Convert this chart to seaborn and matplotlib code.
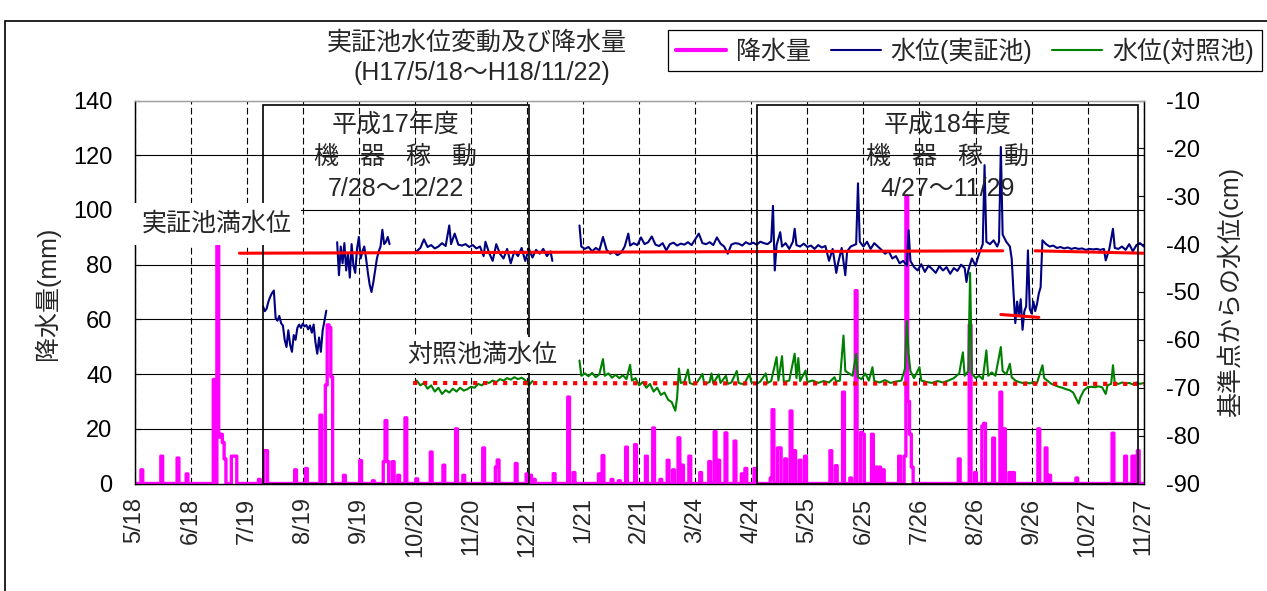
import numpy as np
import pandas as pd
import matplotlib
matplotlib.use("Agg")
import matplotlib.pyplot as plt
import matplotlib.dates as mdates
from matplotlib.lines import Line2D
from matplotlib.patches import Rectangle
from matplotlib.transforms import blended_transform_factory
import seaborn as sns

sns.set_style("white")
plt.rcParams["font.family"] = ["Liberation Sans", "Noto Sans CJK JP"]
plt.rcParams["axes.unicode_minus"] = False

# ---------------- data ----------------
x_start = "2005-05-18"
x_end = "2006-11-27"
tick_dates = ["2005-05-18", "2005-06-18", "2005-07-19", "2005-08-19", "2005-09-19",
              "2005-10-20", "2005-11-20", "2005-12-21", "2006-01-21", "2006-02-21",
              "2006-03-24", "2006-04-24", "2006-05-25", "2006-06-25", "2006-07-26",
              "2006-08-26", "2006-09-26", "2006-10-27", "2006-11-27"]
tick_labels = ["5/18", "6/18", "7/19", "8/19", "9/19", "10/20", "11/20", "12/21", "1/21",
               "2/21", "3/24", "4/24", "5/25", "6/25", "7/26", "8/26", "9/26", "10/27", "11/27"]

# daily rainfall (mm); days not listed had no rain
rain_dates = ["2005-05-22", "2005-06-02", "2005-06-11", "2005-06-16", "2005-07-01", "2005-07-03",
              "2005-07-04", "2005-07-05", "2005-07-06", "2005-07-07", "2005-07-11", "2005-07-12",
              "2005-07-13", "2005-07-26", "2005-07-29", "2005-07-30", "2005-08-15", "2005-08-21",
              "2005-08-29", "2005-09-01", "2005-09-02", "2005-09-03", "2005-09-04", "2005-09-11",
              "2005-09-20", "2005-09-27", "2005-10-03", "2005-10-04", "2005-10-05", "2005-10-08",
              "2005-10-11", "2005-10-15", "2005-10-21", "2005-10-29", "2005-11-05", "2005-11-12",
              "2005-11-16", "2005-11-27", "2005-12-04", "2005-12-05", "2005-12-15", "2005-12-21",
              "2005-12-23", "2005-12-25",
              "2006-01-05", "2006-01-13", "2006-01-16", "2006-01-30", "2006-02-01", "2006-02-06",
              "2006-02-10", "2006-02-14", "2006-02-19", "2006-02-25", "2006-03-01", "2006-03-05",
              "2006-03-09", "2006-03-12", "2006-03-15", "2006-03-17", "2006-03-21", "2006-03-27",
              "2006-04-01", "2006-04-04", "2006-04-06", "2006-04-10", "2006-04-15", "2006-04-19",
              "2006-04-21", "2006-04-26", "2006-05-05", "2006-05-06", "2006-05-09", "2006-05-10",
              "2006-05-13", "2006-05-16", "2006-05-18", "2006-05-21", "2006-05-24", "2006-06-07",
              "2006-06-10", "2006-06-14", "2006-06-18", "2006-06-21", "2006-06-24", "2006-06-25",
              "2006-06-30", "2006-07-02", "2006-07-04", "2006-07-06", "2006-07-15", "2006-07-18",
              "2006-07-19", "2006-07-20", "2006-07-21", "2006-07-22", "2006-08-17", "2006-08-23",
              "2006-08-26", "2006-08-30", "2006-08-31", "2006-09-05", "2006-09-09", "2006-09-11",
              "2006-09-14", "2006-09-16", "2006-09-30", "2006-10-04", "2006-10-06", "2006-10-21",
              "2006-11-10", "2006-11-17", "2006-11-21", "2006-11-23", "2006-11-24"]
rain_mm = [5, 10, 9.3, 3.5, 38, 87,
           17, 18, 15, 9, 10, 10,
           10, 1.5, 12, 12, 5, 5.5,
           25, 36, 58, 57, 39, 3,
           8.4, 1, 8, 23, 8, 8,
           3, 24, 1.7, 11.5, 6.7, 20,
           3, 13, 6, 8.6, 7.3, 3.5,
           3, 1.5,
           3.6, 31.6, 4, 3.5, 10.2, 1.5,
           1, 13.3, 14.2, 10, 20.3, 1.5,
           8.5, 5, 16.7, 6.7, 10, 4,
           8, 19, 8.5, 18.5, 15.5, 3.5,
           5.5, 5.5, 2, 27, 13, 13,
           9, 26.5, 12, 8.5, 10, 12,
           6.5, 33.4, 2, 70.5, 18.7, 18,
           18, 6, 6, 5, 10, 10,
           105, 30, 18, 6, 9, 58,
           4, 21, 22, 16.6, 33.4, 20,
           4, 4, 20, 13, 3, 2,
           18.4, 10, 10, 10, 12]

# water level of the demonstration pond (cm from datum) - daily segments of 2005
jissho_a_start = "2005-07-28"
jissho_a = [-53.0, -54.0, -53.5, -52.0, -51.0, -50.2, -49.7, -55.5, -56.0, -55.0, -56.5, -57.0,
            -60.0, -61.5, -58.0, -61.0, -62.5, -59.0, -60.0, -57.5, -56.8, -57.5, -56.6, -57.2,
            -56.9, -57.8, -57.0, -58.5, -56.8, -60.5, -62.9, -59.5, -62.5, -58.0, -56.0, -53.9]
jissho_b_start = "2005-09-07"
jissho_b = [-39.6, -46.5, -40.5, -44.0, -39.8, -45.5, -42.0, -47.0, -40.0, -44.5, -46.0, -41.0,
            -38.5, -43.0, -41.5, -40.5, -43.0, -46.0, -48.5, -50.0, -48.0, -45.5, -43.0, -41.5,
            -40.5, -37.0, -40.0, -39.5, -38.5, -40.0]
jissho_c_dates = ["2005-10-21", "2005-10-23", "2005-10-25", "2005-10-27", "2005-10-29", "2005-10-31",
                  "2005-11-02", "2005-11-04", "2005-11-06", "2005-11-08", "2005-11-09", "2005-11-11",
                  "2005-11-13", "2005-11-15", "2005-11-17", "2005-11-19", "2005-11-21", "2005-11-23",
                  "2005-11-25", "2005-11-27", "2005-11-28", "2005-11-30", "2005-12-02", "2005-12-04",
                  "2005-12-06", "2005-12-08", "2005-12-10", "2005-12-12", "2005-12-14", "2005-12-16",
                  "2005-12-18", "2005-12-20", "2005-12-22", "2005-12-24", "2005-12-26", "2005-12-28",
                  "2005-12-30", "2006-01-01", "2006-01-03", "2006-01-04"]
jissho_c = [-41.5, -40.8, -39.0, -40.6, -40.2, -40.9,
            -40.5, -39.8, -40.4, -36.1, -40.0, -37.8,
            -40.1, -40.3, -40.0, -40.6, -40.2, -40.9,
            -40.5, -42.5, -39.5, -41.8, -43.5, -40.0,
            -42.0, -43.0, -41.0, -44.0, -41.5, -42.5,
            -40.8, -43.5, -41.0, -42.8, -41.2, -42.0,
            -41.0, -42.5, -41.5, -43.5]
jissho_d_dates = ["2006-01-19", "2006-01-20", "2006-01-22", "2006-01-24", "2006-01-26", "2006-01-28",
                  "2006-01-30", "2006-02-01", "2006-02-03", "2006-02-05", "2006-02-07", "2006-02-09",
                  "2006-02-11", "2006-02-13", "2006-02-15", "2006-02-16", "2006-02-18", "2006-02-20",
                  "2006-02-22", "2006-02-24", "2006-02-26", "2006-02-28", "2006-03-02", "2006-03-04",
                  "2006-03-06", "2006-03-08", "2006-03-10", "2006-03-12", "2006-03-14", "2006-03-16",
                  "2006-03-18", "2006-03-20", "2006-03-22", "2006-03-24", "2006-03-26", "2006-03-28",
                  "2006-03-30", "2006-04-01", "2006-04-03", "2006-04-05", "2006-04-07", "2006-04-09",
                  "2006-04-11", "2006-04-13", "2006-04-15", "2006-04-17", "2006-04-19", "2006-04-21",
                  "2006-04-23", "2006-04-25", "2006-04-27", "2006-04-29", "2006-05-01", "2006-05-03",
                  "2006-05-05", "2006-05-06", "2006-05-07", "2006-05-08", "2006-05-10", "2006-05-11",
                  "2006-05-13", "2006-05-15", "2006-05-17", "2006-05-18", "2006-05-19", "2006-05-21",
                  "2006-05-23", "2006-05-25", "2006-05-27", "2006-05-29", "2006-05-31", "2006-06-02",
                  "2006-06-04", "2006-06-06", "2006-06-08", "2006-06-10", "2006-06-11", "2006-06-13",
                  "2006-06-15", "2006-06-16", "2006-06-18", "2006-06-21", "2006-06-22", "2006-06-23",
                  "2006-06-25", "2006-06-27", "2006-06-29", "2006-07-01", "2006-07-03", "2006-07-05",
                  "2006-07-07", "2006-07-09", "2006-07-11", "2006-07-13", "2006-07-15", "2006-07-17",
                  "2006-07-19", "2006-07-20", "2006-07-21", "2006-07-23", "2006-07-25", "2006-07-27",
                  "2006-07-29", "2006-07-31", "2006-08-02", "2006-08-04", "2006-08-06", "2006-08-08",
                  "2006-08-10", "2006-08-12", "2006-08-14", "2006-08-16", "2006-08-18", "2006-08-20",
                  "2006-08-21", "2006-08-22", "2006-08-24", "2006-08-26", "2006-08-28", "2006-08-30",
                  "2006-08-31", "2006-09-01", "2006-09-03", "2006-09-05", "2006-09-07", "2006-09-08",
                  "2006-09-09", "2006-09-10", "2006-09-12", "2006-09-14", "2006-09-15", "2006-09-16",
                  "2006-09-17", "2006-09-18", "2006-09-19", "2006-09-20", "2006-09-21", "2006-09-22",
                  "2006-09-23", "2006-09-24", "2006-09-25", "2006-09-26", "2006-09-27", "2006-09-28",
                  "2006-09-29", "2006-09-30", "2006-10-01", "2006-10-02", "2006-10-04", "2006-10-06",
                  "2006-10-08", "2006-10-10", "2006-10-12", "2006-10-14", "2006-10-16", "2006-10-18",
                  "2006-10-20", "2006-10-22", "2006-10-24", "2006-10-26", "2006-10-28", "2006-10-30",
                  "2006-11-01", "2006-11-03", "2006-11-05", "2006-11-06", "2006-11-08", "2006-11-10",
                  "2006-11-11", "2006-11-13", "2006-11-15", "2006-11-17", "2006-11-19", "2006-11-21",
                  "2006-11-23", "2006-11-25", "2006-11-27"]
jissho_d = [-36.1, -40.5, -41.0, -40.6, -41.5, -40.8,
            -41.3, -38.5, -41.2, -42.0, -41.6, -42.3,
            -41.8, -40.5, -37.8, -40.3, -39.8, -40.2,
            -38.6, -40.0, -39.6, -38.4, -40.1, -40.4,
            -39.8, -41.3, -40.0, -39.7, -40.3, -39.9,
            -40.1, -39.6, -40.2, -39.0, -37.8, -39.8,
            -40.0, -39.6, -40.2, -38.6, -39.9, -40.5,
            -42.0, -40.1, -39.8, -39.9, -40.3, -39.6,
            -40.0, -39.7, -40.1, -39.5, -39.8, -40.0,
            -39.4, -32.0, -45.5, -40.2, -37.5, -40.5,
            -39.8, -41.0, -39.5, -36.8, -40.2, -40.5,
            -39.9, -40.6, -40.3, -41.0, -40.2, -40.7,
            -40.4, -43.5, -41.0, -46.0, -44.0, -40.8,
            -46.5, -41.5, -40.5, -40.0, -27.3, -39.5,
            -40.5, -39.5, -41.0, -39.8, -40.5, -41.2,
            -42.0, -41.5, -43.0, -42.5, -44.0, -43.5,
            -44.5, -37.1, -43.5, -44.8, -45.5, -44.2,
            -45.8, -44.5, -45.2, -46.0, -44.6, -45.5,
            -44.8, -46.2, -45.0, -45.6, -44.3, -45.0,
            -47.9, -45.5, -43.0, -44.5, -42.0, -40.0,
            -23.5, -39.5, -40.0, -39.2, -40.5, -39.5,
            -19.7, -38.0, -39.5, -40.5, -43.0, -50.0,
            -56.5, -52.0, -55.0, -51.5, -57.9, -54.0,
            -53.0, -41.3, -53.5, -54.5, -52.0, -54.0,
            -52.5, -50.3, -49.0, -39.2, -40.0, -40.5,
            -40.3, -40.8, -40.6, -40.9, -40.7, -41.0,
            -40.8, -41.0, -40.9, -41.2, -41.0, -41.1,
            -41.0, -41.2, -41.0, -43.4, -41.0, -36.8,
            -40.8, -41.0, -40.5, -41.2, -40.0, -41.5,
            -40.2, -39.8, -40.5]

# water level of the control pond (cm from datum)
taisho_a_dates = ["2005-10-21", "2005-10-23", "2005-10-25", "2005-10-27", "2005-10-29", "2005-10-31",
                  "2005-11-02", "2005-11-04", "2005-11-06", "2005-11-08", "2005-11-10", "2005-11-12",
                  "2005-11-14", "2005-11-16", "2005-11-18", "2005-11-20", "2005-11-22", "2005-11-24",
                  "2005-11-26", "2005-11-28", "2005-11-30", "2005-12-02", "2005-12-04", "2005-12-06",
                  "2005-12-08", "2005-12-10", "2005-12-12", "2005-12-14", "2005-12-16", "2005-12-18",
                  "2005-12-20", "2005-12-22", "2005-12-24"]
taisho_a = [-68.5, -69.5, -69.0, -70.2, -69.5, -70.8,
            -70.0, -71.3, -70.5, -71.0, -70.2, -70.8,
            -70.0, -70.6, -70.3, -69.8, -70.0, -69.2,
            -69.5, -68.8, -69.0, -68.5, -68.8, -68.2,
            -68.5, -68.0, -68.3, -67.8, -68.2, -67.9,
            -68.4, -69.5, -68.6]
taisho_b_dates = ["2006-01-19", "2006-01-20", "2006-01-22", "2006-01-24", "2006-01-26", "2006-01-28",
                  "2006-01-30", "2006-02-01", "2006-02-02", "2006-02-04", "2006-02-06", "2006-02-08",
                  "2006-02-10", "2006-02-12", "2006-02-14", "2006-02-16", "2006-02-17", "2006-02-19",
                  "2006-02-21", "2006-02-23", "2006-02-25", "2006-02-27", "2006-03-01", "2006-03-03",
                  "2006-03-05", "2006-03-07", "2006-03-09", "2006-03-11", "2006-03-13", "2006-03-14",
                  "2006-03-15", "2006-03-16", "2006-03-18", "2006-03-20", "2006-03-21", "2006-03-23",
                  "2006-03-25", "2006-03-28", "2006-03-29", "2006-04-01", "2006-04-02", "2006-04-03",
                  "2006-04-06", "2006-04-07", "2006-04-10", "2006-04-11", "2006-04-13", "2006-04-16",
                  "2006-04-17", "2006-04-20", "2006-04-23", "2006-04-24", "2006-04-27", "2006-04-29",
                  "2006-05-02", "2006-05-03", "2006-05-05", "2006-05-08", "2006-05-09", "2006-05-11",
                  "2006-05-12", "2006-05-15", "2006-05-18", "2006-05-19", "2006-05-20", "2006-05-21",
                  "2006-05-24", "2006-05-25", "2006-05-28", "2006-05-31", "2006-06-03", "2006-06-06",
                  "2006-06-09", "2006-06-10", "2006-06-12", "2006-06-14", "2006-06-15", "2006-06-17",
                  "2006-06-19", "2006-06-21", "2006-06-22", "2006-06-24", "2006-06-26", "2006-06-28",
                  "2006-06-30", "2006-07-01", "2006-07-04", "2006-07-07", "2006-07-10", "2006-07-13",
                  "2006-07-16", "2006-07-18", "2006-07-19", "2006-07-20", "2006-07-21", "2006-07-23",
                  "2006-07-26", "2006-07-27", "2006-07-30", "2006-08-02", "2006-08-05", "2006-08-08",
                  "2006-08-11", "2006-08-14", "2006-08-17", "2006-08-19", "2006-08-20", "2006-08-22",
                  "2006-08-23", "2006-08-24", "2006-08-26", "2006-08-28", "2006-08-30", "2006-09-01",
                  "2006-09-02", "2006-09-04", "2006-09-06", "2006-09-09", "2006-09-10", "2006-09-12",
                  "2006-09-14", "2006-09-15", "2006-09-17", "2006-09-19", "2006-09-21", "2006-09-23",
                  "2006-09-25", "2006-09-27", "2006-09-29", "2006-10-02", "2006-10-03", "2006-10-05",
                  "2006-10-07", "2006-10-09", "2006-10-11", "2006-10-13", "2006-10-15", "2006-10-17",
                  "2006-10-19", "2006-10-21", "2006-10-22", "2006-10-23", "2006-10-25", "2006-10-27",
                  "2006-10-29", "2006-10-31", "2006-11-02", "2006-11-04", "2006-11-06", "2006-11-07",
                  "2006-11-09", "2006-11-10", "2006-11-11", "2006-11-13", "2006-11-15", "2006-11-17",
                  "2006-11-19", "2006-11-21", "2006-11-23", "2006-11-25", "2006-11-27"]
taisho_b = [-64.3, -67.5, -67.0, -67.6, -66.9, -67.8,
            -67.2, -64.0, -67.5, -67.0, -67.9, -67.3,
            -68.0, -67.4, -68.2, -65.2, -68.5, -68.0,
            -69.5, -68.8, -70.0, -69.2, -70.8, -70.0,
            -71.5, -71.0, -72.5, -73.0, -74.8, -72.0,
            -66.0, -69.0, -68.8, -66.2, -69.0, -69.3,
            -68.9, -67.1, -69.2, -68.8, -67.0, -69.1,
            -67.2, -69.0, -67.5, -69.2, -68.9, -66.5,
            -69.0, -69.3, -67.1, -68.8, -69.2, -68.7,
            -67.0, -69.0, -68.6, -63.6, -68.5, -63.4,
            -68.8, -68.5, -62.9, -68.0, -63.8, -68.6,
            -66.4, -68.8, -68.5, -69.0, -68.6, -68.9,
            -67.8, -68.7, -68.5, -59.1, -66.5, -67.0,
            -67.5, -62.9, -67.8, -68.2, -67.0, -68.5,
            -65.7, -68.6, -68.9, -68.4, -69.0, -68.7,
            -68.5, -66.0, -56.1, -62.9, -66.5, -68.0,
            -65.7, -68.5, -68.8, -69.0, -68.6, -68.9,
            -68.5, -68.0, -67.0, -62.6, -67.5, -66.5,
            -46.0, -67.0, -68.0, -67.5, -68.2, -62.2,
            -67.5, -66.8, -67.5, -61.5, -66.5, -67.2,
            -65.0, -67.8, -68.5, -68.8, -69.0, -68.9,
            -69.1, -68.8, -69.0, -65.3, -68.0, -68.6,
            -69.2, -69.5, -69.8, -70.0, -70.3, -70.5,
            -71.0, -72.5, -73.3, -72.0, -70.5, -69.9,
            -69.8, -69.9, -69.7, -69.9, -71.3, -69.5,
            -69.2, -65.3, -69.0, -69.2, -68.9, -69.1,
            -69.0, -69.3, -68.9, -69.2, -69.0]

# full-water levels (start, end, level at start, level at end)
full_jissho_start = ["2005-07-15", "2006-09-09", "2006-09-28"]
full_jissho_end = ["2006-09-10", "2006-09-30", "2006-11-27"]
full_jissho_v0 = [-41.9, -54.7, -41.4]
full_jissho_v1 = [-41.4, -55.3, -41.9]
full_taisho_start = "2005-10-19"
full_taisho_end = "2006-11-27"
full_taisho_v = [-69.0, -69.2]

# equipment operation periods
period_start = ["2005-07-28", "2006-04-27"]
period_end = ["2005-12-22", "2006-11-24"]
period_text = [["平成17年度", "機   器   稼   動", "7/28～12/22"],
               ["平成18年度", "機   器   稼   動", "4/27～11/29"]]

# ---------------- frames ----------------
days = pd.date_range(x_start, x_end, freq="D")
rain = pd.Series(0.0, index=days)
rain.loc[pd.to_datetime(rain_dates)] = rain_mm
df_rain = pd.DataFrame({"date": days, "mm": rain.values})

def seg_frame(parts):
    frames = []
    for i, (d, v) in enumerate(parts):
        frames.append(pd.DataFrame({"date": d, "level": v, "seg": i}))
    return pd.concat(frames, ignore_index=True)

df_j = seg_frame([
    (pd.date_range(jissho_a_start, periods=len(jissho_a), freq="D"), jissho_a),
    (pd.date_range(jissho_b_start, periods=len(jissho_b), freq="D"), jissho_b),
    (pd.to_datetime(jissho_c_dates), jissho_c),
    (pd.to_datetime(jissho_d_dates), jissho_d),
])
df_t = seg_frame([
    (pd.to_datetime(taisho_a_dates), taisho_a),
    (pd.to_datetime(taisho_b_dates), taisho_b),
])
df_fj = seg_frame([(pd.to_datetime([s, e]), [a, b]) for s, e, a, b in
                   zip(full_jissho_start, full_jissho_end, full_jissho_v0, full_jissho_v1)])
df_ft = pd.DataFrame({"date": pd.to_datetime([full_taisho_start, full_taisho_end]),
                      "level": full_taisho_v})

# ---------------- figure ----------------
W, H = 1267, 591
fig = plt.figure(figsize=(W / 100, H / 100), dpi=100)
L, R, T, B = 134.6, 1143.7, 100.5, 483.5
ax = fig.add_axes([L / W, 1 - B / H, (R - L) / W, (B - T) / H])
ax2 = ax.twinx()

MAG, NAVY, GRN = "#FF00FF", "#000080", "#008000"

sns.lineplot(data=df_rain, x="date", y="mm", ax=ax, color=MAG, lw=2.4,
             drawstyle="steps-mid", estimator=None, legend=False, zorder=3)
sns.lineplot(data=df_j, x="date", y="level", units="seg", estimator=None, ax=ax2,
             color=NAVY, lw=1.5, legend=False, zorder=2)
sns.lineplot(data=df_t, x="date", y="level", units="seg", estimator=None, ax=ax2,
             color=GRN, lw=1.5, legend=False, zorder=2)
sns.lineplot(data=df_fj, x="date", y="level", units="seg", estimator=None, ax=ax2,
             color="#FF0000", lw=2.2, legend=False, zorder=4)
sns.lineplot(data=df_ft, x="date", y="level", ax=ax2, color="#FF0000", lw=3.0,
             linestyle=(0, (1.0, 1.4)), legend=False, zorder=4)

x0, x1 = pd.Timestamp(x_start), pd.Timestamp(x_end)
ax.set_xlim(x0, x1)
ax2.set_xlim(x0, x1)
ax.set_ylim(0, 140)
ax.set_yticks(np.arange(0, 141, 20))
ax2.set_ylim(-90, -10)
ax2.set_yticks(np.arange(-90, -9, 10))
ax2.set_yticklabels([f"{v}" for v in range(-90, -9, 10)])
ax.set_xticks(pd.to_datetime(tick_dates))
ax.set_xticklabels(tick_labels, rotation=90, ha="center", va="top")
ax.set_xlabel("")
ax.set_ylabel("")
ax2.set_ylabel("")

ax.grid(axis="y", color="black", lw=0.8, ls="-")
ax.grid(axis="x", color="black", lw=0.8, ls=(0, (6, 3)))
ygl = ax.get_ygridlines()
ygl[-1].set_visible(False)
ygl[0].set_visible(False)
ax.set_axisbelow(True)

ax.tick_params(axis="y", direction="in", length=4, width=0.8, labelsize=17, pad=16, colors="black")
ax.tick_params(axis="x", length=0, labelsize=17, pad=10)
ax2.tick_params(axis="y", direction="in", length=4, width=0.8, labelsize=17, pad=16, colors="black")
for a in (ax, ax2):
    for s in ("left", "right", "bottom"):
        a.spines[s].set_color("black")
        a.spines[s].set_linewidth(0.9)
    a.spines["top"].set_color("#a0a0a0")
    a.spines["top"].set_linewidth(0.9)

# operation period boxes and texts
trans = blended_transform_factory(ax2.transData, ax2.transAxes)
for s, e, lines in zip(period_start, period_end, period_text):
    xs, xe = mdates.date2num(pd.Timestamp(s)), mdates.date2num(pd.Timestamp(e))
    ax2.add_patch(Rectangle((xs, 0), xe - xs, (B - 105) / (B - T), transform=trans,
                            fill=False, ec="black", lw=1.2, zorder=5))
    xm = (xs + xe) / 2
    for txt, yy in zip(lines, [125, 157, 189]):
        ax2.text(xm, (B - yy) / (B - T), txt, transform=trans, ha="center", va="center",
                 fontsize=18, zorder=6)

# full-water level labels
fig.text(142 / W, 1 - 224 / H, "実証池満水位", fontsize=18, ha="left", va="center",
         bbox=dict(facecolor="white", edgecolor="none", boxstyle="square,pad=0.35"))
fig.text(407 / W, 1 - 355 / H, "対照池満水位", fontsize=18, ha="left", va="center",
         bbox=dict(facecolor="white", edgecolor="none", boxstyle="square,pad=0.25"))

# titles and axis labels
fig.text(477 / W, 1 - 43 / H, "実証池水位変動及び降水量", fontsize=18, ha="center", va="center")
fig.text(482 / W, 1 - 73 / H, "(H17/5/18～H18/11/22)", fontsize=18, ha="center", va="center")
fig.text(47 / W, 1 - 293 / H, "降水量(mm)", fontsize=18, rotation=90, ha="center", va="center")
fig.text(1230 / W, 1 - 292 / H, "基準点からの水位(cm)", fontsize=18, rotation=90,
         ha="center", va="center")

# legend
handles = [Line2D([], [], color=MAG, lw=3),
           Line2D([], [], color=NAVY, lw=1.5),
           Line2D([], [], color=GRN, lw=1.5)]
leg = fig.legend(handles, ["降水量", "水位(実証池)", "水位(対照池)"], loc="upper left",
                 bbox_to_anchor=(668 / W, 1 - 30 / H), ncol=3, fontsize=18, frameon=True,
                 fancybox=False, edgecolor="black", framealpha=1, handlelength=2.0,
                 handletextpad=0.4, columnspacing=0.8, borderpad=0.3, borderaxespad=0)
leg.get_frame().set_linewidth(0.9)

# outer frame
fig.add_artist(Rectangle((5 / W, -0.1), 1.2, 1.1 - 21 / H, transform=fig.transFigure,
                         fill=False, ec="black", lw=1.2))

fig.savefig("out.png", dpi=100)
